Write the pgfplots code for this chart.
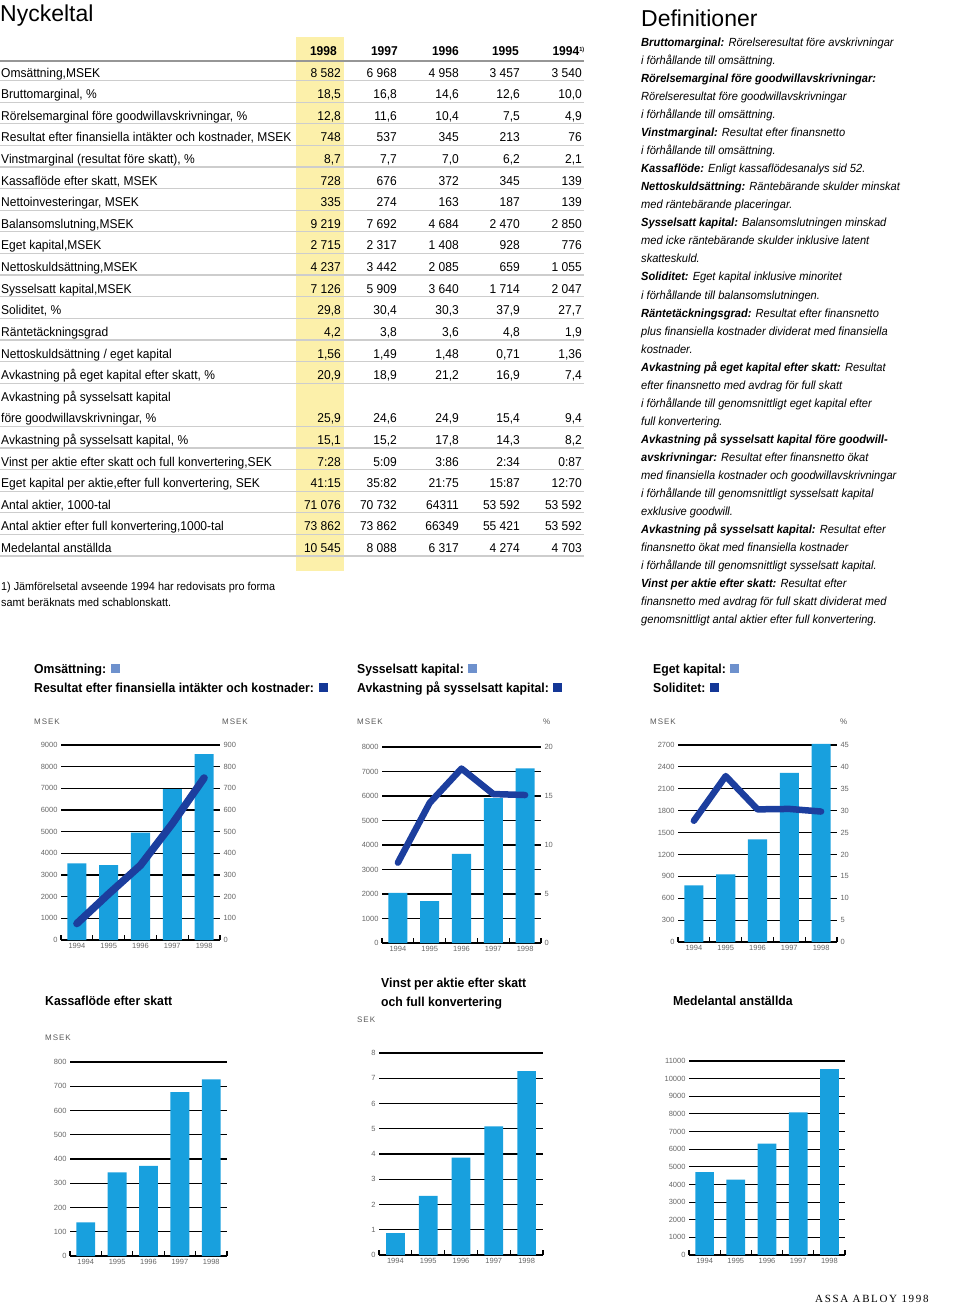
\documentclass[border=0pt]{standalone}
\usepackage{fontspec}
\setmainfont[FakeStretch=0.94]{Liberation Sans}
\newfontfamily\plainfont{Liberation Sans}
\newfontfamily\unitfont[LetterSpace=12]{Liberation Sans}
\newfontfamily\logofont[LetterSpace=15]{Liberation Serif}
\usepackage{pgfplots}
\pgfplotsset{compat=1.18}

\definecolor{barblue}{RGB}{24,160,222}
\definecolor{linblue}{RGB}{28,62,158}
\definecolor{legl}{RGB}{110,145,205}
\definecolor{legd}{RGB}{20,55,150}
\definecolor{yel}{RGB}{252,240,170}
\definecolor{sepc}{RGB}{205,205,205}
\definecolor{hdrc}{RGB}{150,150,150}

\newcommand\tabfont{\fontsize{12.8}{14}\selectfont}
\newcommand\deffont{\fontsize{11.8}{13}\selectfont\itshape}
\newcommand\headfont{\fontsize{13}{15}\selectfont\bfseries}
\newcommand\tickfont{\plainfont\fontsize{7.5}{8}\selectfont}
\newcommand\titlefont{\plainfont\fontsize{23}{26}\selectfont}
\newcommand\unitlab{\unitfont\fontsize{8}{9}\selectfont\color{black!65}}
\newcommand\legsq[1]{\textcolor{#1}{\rule{9pt}{9pt}}}

\newcommand\trow[7]{%
  \pgfmathsetmacro\yb{-(77.2+(#1-1)*21.6)}%
  \node[anchor=base west,inner sep=0] at (1pt,\yb pt) {\tabfont #2};
  \node[anchor=base east,inner sep=0] at (341pt,\yb pt) {\tabfont #3};
  \node[anchor=base east,inner sep=0] at (397pt,\yb pt) {\tabfont #4};
  \node[anchor=base east,inner sep=0] at (459pt,\yb pt) {\tabfont #5};
  \node[anchor=base east,inner sep=0] at (520pt,\yb pt) {\tabfont #6};
  \node[anchor=base east,inner sep=0] at (582pt,\yb pt) {\tabfont #7};
}
\newcommand\dl[2]{%
  \pgfmathsetmacro\yd{-(47+(#1-1)*18.0)}%
  \node[anchor=base west,inner sep=0] at (641pt,\yd pt) {\deffont #2};
}

\pgfplotsset{
  bchart/.style={
    scale only axis, anchor=south west, clip=false,
    xmin=-0.5, xmax=4.5, ymin=0,
    axis x line=bottom, axis y line=left,
    axis line style={-},
    x axis line style={black, line width=1.3pt},
    y axis line style={draw=none},
    xtick={0,1,2,3,4}, xticklabels={1994,1995,1996,1997,1998},
    major x tick style={draw=none},
    minor xtick={-0.5,0.5,1.5,2.5,3.5,4.5},
    minor x tick style={black, line width=1.2pt},
    minor tick length=5pt,
    tick align=inside,
    ytick style={draw=none},
    ymajorgrids, grid style={black, line width=1.1pt},
    tick label style={font=\tickfont, text=black!60},
    scaled y ticks=false,
    /pgf/number format/assume math mode=true,
    /pgf/number format/1000 sep={},
  },
  rchart/.style={
    bchart, axis x line=none, axis y line*=right, ymajorgrids=false,
  },
}

\begin{document}
\begin{tikzpicture}
\path[use as bounding box] (0pt,0pt) rectangle (960pt,-1305pt);

% ---------------- Nyckeltal table ----------------
\node[anchor=base west,inner sep=0] at (0pt,-21.5pt) {\titlefont Nyckeltal};
\fill[yel] (296pt,-37pt) rectangle (344pt,-571pt);
\draw[hdrc, line width=2pt] (0pt,-61pt) -- (584pt,-61pt);
\foreach \i in {1,...,15,17,18,...,23}{
  \pgfmathsetmacro\yl{-(80.7+(\i-1)*21.6)}
  \draw[sepc, line width=1.2pt] (0pt,\yl pt) -- (584pt,\yl pt);
}
\node[anchor=base east,inner sep=0] at (337pt,-56pt) {\tabfont\bfseries 1998};
\node[anchor=base east,inner sep=0] at (398pt,-56pt) {\tabfont\bfseries 1997};
\node[anchor=base east,inner sep=0] at (459pt,-56pt) {\tabfont\bfseries 1996};
\node[anchor=base east,inner sep=0] at (519pt,-56pt) {\tabfont\bfseries 1995};
\node[anchor=base east,inner sep=0] at (585pt,-56pt) {\tabfont\bfseries 1994\textsuperscript{\fontsize{6}{6}\selectfont 1)}};

\trow{1}{Omsättning,MSEK}{8 582}{6 968}{4 958}{3 457}{3 540}
\trow{2}{Bruttomarginal, \%}{18,5}{16,8}{14,6}{12,6}{10,0}
\trow{3}{Rörelsemarginal före goodwillavskrivningar, \%}{12,8}{11,6}{10,4}{7,5}{4,9}
\trow{4}{Resultat efter finansiella intäkter och kostnader, MSEK}{748}{537}{345}{213}{76}
\trow{5}{Vinstmarginal (resultat före skatt), \%}{8,7}{7,7}{7,0}{6,2}{2,1}
\trow{6}{Kassaflöde efter skatt, MSEK}{728}{676}{372}{345}{139}
\trow{7}{Nettoinvesteringar, MSEK}{335}{274}{163}{187}{139}
\trow{8}{Balansomslutning,MSEK}{9 219}{7 692}{4 684}{2 470}{2 850}
\trow{9}{Eget kapital,MSEK}{2 715}{2 317}{1 408}{928}{776}
\trow{10}{Nettoskuldsättning,MSEK}{4 237}{3 442}{2 085}{659}{1 055}
\trow{11}{Sysselsatt kapital,MSEK}{7 126}{5 909}{3 640}{1 714}{2 047}
\trow{12}{Soliditet, \%}{29,8}{30,4}{30,3}{37,9}{27,7}
\trow{13}{Räntetäckningsgrad}{4,2}{3,8}{3,6}{4,8}{1,9}
\trow{14}{Nettoskuldsättning / eget kapital}{1,56}{1,49}{1,48}{0,71}{1,36}
\trow{15}{Avkastning på eget kapital efter skatt, \%}{20,9}{18,9}{21,2}{16,9}{7,4}
\trow{16}{Avkastning på sysselsatt kapital}{}{}{}{}{}
\trow{17}{före goodwillavskrivningar, \%}{25,9}{24,6}{24,9}{15,4}{9,4}
\trow{18}{Avkastning på sysselsatt kapital, \%}{15,1}{15,2}{17,8}{14,3}{8,2}
\trow{19}{Vinst per aktie efter skatt och full konvertering,SEK}{7:28}{5:09}{3:86}{2:34}{0:87}
\trow{20}{Eget kapital per aktie,efter full konvertering, SEK}{41:15}{35:82}{21:75}{15:87}{12:70}
\trow{21}{Antal aktier, 1000-tal}{71 076}{70 732}{64311}{53 592}{53 592}
\trow{22}{Antal aktier efter full konvertering,1000-tal}{73 862}{73 862}{66349}{55 421}{53 592}
\trow{23}{Medelantal anställda}{10 545}{8 088}{6 317}{4 274}{4 703}

\node[anchor=base west,inner sep=0] at (1pt,-590pt) {\fontsize{11.5}{13}\selectfont 1) Jämförelsetal avseende 1994 har redovisats pro forma};
\node[anchor=base west,inner sep=0] at (1pt,-606pt) {\fontsize{11.5}{13}\selectfont samt beräknats med schablonskatt.};

% ---------------- Definitioner ----------------
\node[anchor=base west,inner sep=0] at (641pt,-27pt) {\titlefont Definitioner};
\dl{1}{\textbf{Bruttomarginal:} Rörelseresultat före avskrivningar}
\dl{2}{i förhållande till omsättning.}
\dl{3}{\textbf{Rörelsemarginal före goodwillavskrivningar:}}
\dl{4}{Rörelseresultat före goodwillavskrivningar}
\dl{5}{i förhållande till omsättning.}
\dl{6}{\textbf{Vinstmarginal:} Resultat efter finansnetto}
\dl{7}{i förhållande till omsättning.}
\dl{8}{\textbf{Kassaflöde:} Enligt kassaflödesanalys sid 52.}
\dl{9}{\textbf{Nettoskuldsättning:} Räntebärande skulder minskat}
\dl{10}{med räntebärande placeringar.}
\dl{11}{\textbf{Sysselsatt kapital:} Balansomslutningen minskad}
\dl{12}{med icke räntebärande skulder inklusive latent}
\dl{13}{skatteskuld.}
\dl{14}{\textbf{Soliditet:} Eget kapital inklusive minoritet}
\dl{15}{i förhållande till balansomslutningen.}
\dl{16}{\textbf{Räntetäckningsgrad:} Resultat efter finansnetto}
\dl{17}{plus finansiella kostnader dividerat med finansiella}
\dl{18}{kostnader.}
\dl{19}{\textbf{Avkastning på eget kapital efter skatt:} Resultat}
\dl{20}{efter finansnetto med avdrag för full skatt}
\dl{21}{i förhållande till genomsnittligt eget kapital efter}
\dl{22}{full konvertering.}
\dl{23}{\textbf{Avkastning på sysselsatt kapital före goodwill-}}
\dl{24}{\textbf{avskrivningar:} Resultat efter finansnetto ökat}
\dl{25}{med finansiella kostnader och goodwillavskrivningar}
\dl{26}{i förhållande till genomsnittligt sysselsatt kapital}
\dl{27}{exklusive goodwill.}
\dl{28}{\textbf{Avkastning på sysselsatt kapital:} Resultat efter}
\dl{29}{finansnetto ökat med finansiella kostnader}
\dl{30}{i förhållande till genomsnittligt sysselsatt kapital.}
\dl{31}{\textbf{Vinst per aktie efter skatt:} Resultat efter}
\dl{32}{finansnetto med avdrag för full skatt dividerat med}
\dl{33}{genomsnittligt antal aktier efter full konvertering.}

% ---------------- Chart headings ----------------
\node[anchor=base west,inner sep=0] at (34pt,-673pt) {\headfont Omsättning: \legsq{legl}};
\node[anchor=base west,inner sep=0] at (34pt,-692pt) {\headfont Resultat efter finansiella intäkter och kostnader: \legsq{legd}};
\node[anchor=base west,inner sep=0] at (357pt,-673pt) {\headfont Sysselsatt kapital: \legsq{legl}};
\node[anchor=base west,inner sep=0] at (357pt,-692pt) {\headfont Avkastning på sysselsatt kapital: \legsq{legd}};
\node[anchor=base west,inner sep=0] at (653pt,-673pt) {\headfont Eget kapital: \legsq{legl}};
\node[anchor=base west,inner sep=0] at (653pt,-692pt) {\headfont Soliditet: \legsq{legd}};
\node[anchor=base west,inner sep=0] at (45pt,-1005.5pt) {\headfont Kassaflöde efter skatt};
\node[anchor=base west,inner sep=0] at (381pt,-987pt) {\headfont Vinst per aktie efter skatt};
\node[anchor=base west,inner sep=0] at (381pt,-1006.5pt) {\headfont och full konvertering};
\node[anchor=base west,inner sep=0] at (673pt,-1005.5pt) {\headfont Medelantal anställda};

% unit labels
\node[anchor=base west,inner sep=0] at (34pt,-724pt) {\unitlab MSEK};
\node[anchor=base west,inner sep=0] at (222pt,-724pt) {\unitlab MSEK};
\node[anchor=base west,inner sep=0] at (357pt,-724pt) {\unitlab MSEK};
\node[anchor=base west,inner sep=0] at (543pt,-724pt) {\unitlab \%};
\node[anchor=base west,inner sep=0] at (650pt,-724pt) {\unitlab MSEK};
\node[anchor=base west,inner sep=0] at (840pt,-724pt) {\unitlab \%};
\node[anchor=base west,inner sep=0] at (45pt,-1040.5pt) {\unitlab MSEK};
\node[anchor=base west,inner sep=0] at (357pt,-1022.5pt) {\unitlab SEK};

\node[anchor=base west,inner sep=0] at (815pt,-1302pt) {\logofont\fontsize{11}{12}\selectfont ASSA ABLOY 1998};

% ---------------- Chart 1 ----------------
\begin{axis}[bchart, at={(61pt,-940pt)}, width=159pt, height=195pt,
  ymax=9000, ytick={0,1000,...,9000}]
  \addplot[ybar, bar width=0.6, fill=barblue, draw=none]
    coordinates {(0,3540) (1,3457) (2,4958) (3,6968) (4,8582)};
\end{axis}
\begin{axis}[rchart, at={(61pt,-940pt)}, width=159pt, height=195pt,
  ymax=900, ytick={0,100,...,900}]
  \addplot[linblue, line width=7.5pt, line join=round, line cap=round]
    coordinates {(0,76) (1,213) (2,345) (3,537) (4,748)};
\end{axis}

% ---------------- Chart 2 ----------------
\begin{axis}[bchart, at={(382pt,-943pt)}, width=159pt, height=196pt,
  ymax=8000, ytick={0,1000,...,8000}]
  \addplot[ybar, bar width=0.6, fill=barblue, draw=none]
    coordinates {(0,2047) (1,1714) (2,3640) (3,5909) (4,7126)};
\end{axis}
\begin{axis}[rchart, at={(382pt,-943pt)}, width=159pt, height=196pt,
  ymax=20, ytick={0,5,...,20}]
  \addplot[linblue, line width=6.5pt, line join=round, line cap=round]
    coordinates {(0,8.2) (1,14.3) (2,17.8) (3,15.2) (4,15.1)};
\end{axis}

% ---------------- Chart 3 ----------------
\begin{axis}[bchart, at={(678pt,-942pt)}, width=159pt, height=197pt,
  ymax=2700, ytick={0,300,...,2700}]
  \addplot[ybar, bar width=0.6, fill=barblue, draw=none]
    coordinates {(0,776) (1,928) (2,1408) (3,2317) (4,2715)};
\end{axis}
\begin{axis}[rchart, at={(678pt,-942pt)}, width=159pt, height=197pt,
  ymax=45, ytick={0,5,...,45}]
  \addplot[linblue, line width=6.5pt, line join=round, line cap=round]
    coordinates {(0,27.7) (1,37.9) (2,30.3) (3,30.4) (4,29.8)};
\end{axis}

% ---------------- Chart 4 ----------------
\begin{axis}[bchart, at={(70pt,-1256pt)}, width=157pt, height=194pt,
  ymax=800, ytick={0,100,...,800}]
  \addplot[ybar, bar width=0.6, fill=barblue, draw=none]
    coordinates {(0,139) (1,345) (2,372) (3,676) (4,728)};
\end{axis}

% ---------------- Chart 5 ----------------
\begin{axis}[bchart, at={(379pt,-1255pt)}, width=164pt, height=202pt,
  ymax=8, ytick={0,1,...,8}]
  \addplot[ybar, bar width=0.57, fill=barblue, draw=none]
    coordinates {(0,0.87) (1,2.34) (2,3.86) (3,5.09) (4,7.28)};
\end{axis}

% ---------------- Chart 6 ----------------
\begin{axis}[bchart, at={(689pt,-1255pt)}, width=156pt, height=194pt,
  ymax=11000, ytick={0,1000,...,11000}]
  \addplot[ybar, bar width=0.6, fill=barblue, draw=none]
    coordinates {(0,4703) (1,4274) (2,6317) (3,8088) (4,10545)};
\end{axis}
\end{tikzpicture}
\end{document}
